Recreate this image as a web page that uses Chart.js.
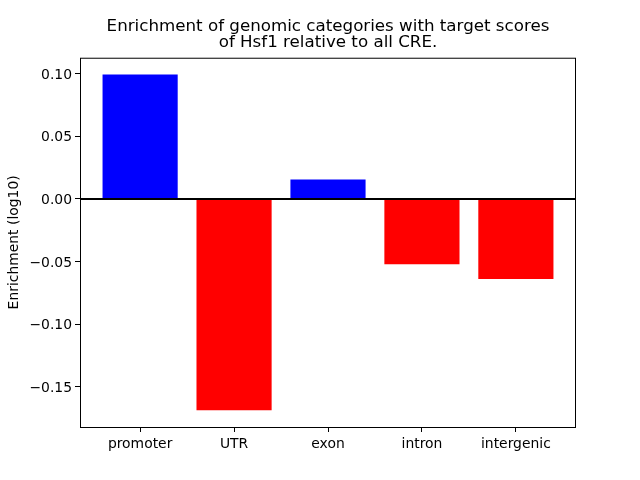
<!DOCTYPE html>
<html>
<head>
<meta charset="utf-8">
<script src="https://cdn.jsdelivr.net/npm/chart.js@4.4.0/dist/chart.umd.min.js"></script>
<style>
  body { margin: 0; background: #fff; }
</style>
</head>
<body>
<canvas id="enrichment" width="640" height="480"></canvas>
<script>
const categories = ["promoter", "UTR", "exon", "intron", "intergenic"];
const enrichment = [0.0994, -0.1687, 0.0156, -0.0521, -0.0640];
const titleLines = ["Enrichment of genomic categories with target scores", "of Hsf1 relative to all CRE."];

// axis range like matplotlib: 5% margin around the data
const dataMax = Math.max(...enrichment);
const dataMin = Math.min(...enrichment);
const margin = (dataMax - dataMin) * 0.05;

const barColors = enrichment.map(v => v >= 0 ? "#0000ff" : "#ff0000");

function formatTick(v) {
  if (Math.abs(v) < 1e-9) return "0.00";
  return (v < 0 ? "\u2212" : "") + Math.abs(v).toFixed(2);
}

// draws the box round the axes and the black line at zero
const frameAndZero = {
  id: "frameAndZero",
  afterDatasetsDraw(chart) {
    const { ctx, chartArea, scales } = chart;
    const y0 = scales.y.getPixelForValue(0);
    ctx.save();
    ctx.strokeStyle = "#000";
    ctx.lineWidth = 2;
    ctx.beginPath();
    ctx.moveTo(chartArea.left, y0);
    ctx.lineTo(chartArea.right, y0);
    ctx.stroke();
    ctx.lineWidth = 1;
    ctx.strokeRect(chartArea.left + 0.5, chartArea.top + 0.5,
      chartArea.right - chartArea.left - 1, chartArea.bottom - chartArea.top);
    ctx.restore();
  }
};

Chart.defaults.font.family = "'DejaVu Sans', sans-serif";
Chart.defaults.color = "#000";

new Chart(document.getElementById("enrichment"), {
  type: "bar",
  data: {
    datasets: [{
      data: enrichment.map((v, i) => ({ x: i, y: v })),
      backgroundColor: barColors,
      borderWidth: 0,
      barPercentage: 0.8,
      categoryPercentage: 1.0
    }]
  },
  options: {
    responsive: false,
    animation: false,
    layout: { padding: { left: 16, right: 0, top: 0, bottom: 0 } },
    plugins: {
      legend: { display: false },
      tooltip: { enabled: false },
      title: {
        display: true,
        text: titleLines,
        font: { size: 16.7, weight: "normal", lineHeight: 0.95 },
        padding: { top: 19, bottom: 7 }
      }
    },
    scales: {
      x: {
        type: "linear",
        offset: false,
        min: -0.64,
        max: 4.64,
        afterBuildTicks: scale => { scale.ticks = categories.map((c, i) => ({ value: i })); },
        afterFit: scale => { scale.height = 53; },
        border: { display: false },
        grid: { offset: false, drawOnChartArea: false, tickLength: 5, tickColor: "#000", tickWidth: 1 },
        ticks: {
          font: { size: 13.9 },
          padding: 4,
          maxRotation: 0,
          callback: v => categories[v]
        }
      },
      y: {
        min: dataMin - margin,
        max: dataMax + margin,
        afterFit: scale => { scale.width = 64; },
        border: { display: false },
        grid: { drawOnChartArea: false, tickLength: 5, tickColor: "#000", tickWidth: 1 },
        ticks: {
          stepSize: 0.05,
          includeBounds: false,
          font: { size: 13.9 },
          padding: 3,
          labelOffset: 1.5,
          callback: v => formatTick(v)
        },
        title: {
          display: true,
          text: "Enrichment (log10)",
          font: { size: 13.9 },
          padding: { top: -10, bottom: 0 }
        }
      },
      // empty right-hand margin, so the title centres over the plot like matplotlib
      yRight: {
        position: "right",
        display: true,
        afterFit: scale => { scale.width = 64; },
        border: { display: false },
        grid: { display: false },
        ticks: { display: false }
      }
    }
  },
  plugins: [frameAndZero]
});
</script>
</body>
</html>
